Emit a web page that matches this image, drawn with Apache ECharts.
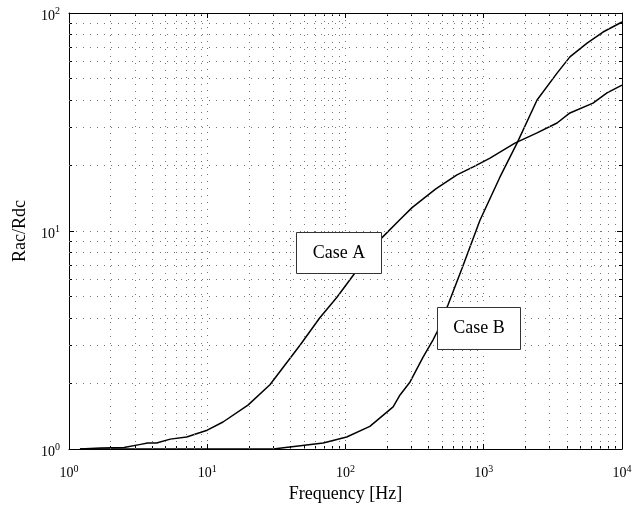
<!DOCTYPE html>
<html>
<head>
<meta charset="utf-8">
<script src="https://cdn.jsdelivr.net/npm/echarts@6/dist/echarts.min.js"></script>
<style>html,body{margin:0;padding:0;background:#fff}#c{width:641px;height:506px}</style>
</head>
<body>
<div id="c"></div>
<script>
// ---- data ----
var caseAFreq = [1.2, 1.7, 2.5, 3.3, 3.7, 4.3, 5.4, 7.1, 8.9, 10, 13, 19.7, 28.4, 47, 65, 87, 117, 150, 183, 248, 303, 450, 640, 840, 1110, 1680, 2430, 3390, 4200, 6170, 7790, 10000];
var caseAVal  = [1.0, 1.01, 1.015, 1.05, 1.065, 1.065, 1.11, 1.135, 1.19, 1.22, 1.33, 1.59, 1.97, 3.0, 3.99, 4.98, 6.42, 7.8, 9.3, 11.3, 12.8, 15.6, 18.1, 19.7, 21.6, 25.3, 28.2, 31.3, 34.8, 38.6, 43, 46.7];
var caseBFreq = [1.2, 10, 30, 69, 102, 150, 221, 248, 293, 364, 429, 459, 551, 700, 939, 1311, 1741, 2430, 3390, 4200, 5590, 7290, 10000];
var caseBVal  = [1.0, 1.0, 1.0, 1.065, 1.135, 1.27, 1.56, 1.77, 2.03, 2.64, 3.16, 3.44, 4.58, 6.8, 11.2, 17.7, 25.3, 39.9, 53, 62.9, 72.8, 81.8, 90.9];
var xRange = [1, 10000];
var yRange = [1, 100];
var xMinorGrid = [2,3,4,5,6,7,8,9,20,30,40,50,60,70,80,90,200,300,400,500,600,700,800,900,2000,3000,4000,5000,6000,7000,8000,9000];
var yMinorGrid = [2,3,4,5,6,7,8,9,20,30,40,50,60,70,80,90];
var labelA = 'Case A';
var labelB = 'Case B';

var FONT = '"Liberation Serif","Times New Roman",serif';
function pair(xs, ys){ return xs.map(function(x,i){ return [x, ys[i]]; }); }
function powFmt(v){ var e = Math.round(Math.log10(v)); return '{b|10}{s|' + e + '}'; }
var rich = {
  b: {fontFamily: FONT, fontSize: 14, color: '#000'},
  s: {fontFamily: FONT, fontSize: 10, color: '#000', verticalAlign: 'bottom', padding: [0,0,9,0]}
};
var gridStyle = {type: [1, 6], color: '#777', width: 1};

function logAxis(range, pos, show, extra){
  var a = {
    type: 'log', logBase: 10, min: range[0], max: range[1], position: pos,
    axisLine: {show: true, onZero: false, lineStyle: {color: '#000', width: 1}},
    axisTick: {show: true, inside: true, length: 5, lineStyle: {color: '#000'}},
    minorTick: {show: true, splitNumber: 9, length: 3, lineStyle: {color: '#000'}},
    axisLabel: {show: show, formatter: powFmt, rich: rich},
    splitLine: {show: show, lineStyle: gridStyle}
  };
  for (var k in extra) {
    if (k === 'axisLabel') { for (var j in extra[k]) a.axisLabel[j] = extra[k][j]; }
    else a[k] = extra[k];
  }
  return a;
}

var chart = echarts.init(document.getElementById('c'), null, {renderer: 'canvas'});
chart.setOption({
  animation: false,
  backgroundColor: '#fff',
  grid: {left: 69, right: 19, top: 13, bottom: 57, containLabel: false, outerBoundsMode: 'none'},
  xAxis: [
    logAxis(xRange, 'bottom', true, {name: 'Frequency [Hz]', nameLocation: 'middle', nameGap: 36,
      nameTextStyle: {fontFamily: FONT, fontSize: 18, color: '#000'},
      axisLabel: {margin: 15}}),
    logAxis(xRange, 'top', false, {})
  ],
  yAxis: [
    logAxis(yRange, 'left', true, {name: 'Rac/Rdc', nameLocation: 'middle', nameGap: 40,
      nameTextStyle: {fontFamily: FONT, fontSize: 18, color: '#000'},
      axisLabel: {padding: [6, 0, 0, 0], margin: 9}}),
    logAxis(yRange, 'right', false, {})
  ],
  series: [
    {type: 'line', data: [], silent: true, z: 1,
     markLine: {silent: true, symbol: 'none', label: {show: false}, animation: false,
       lineStyle: gridStyle,
       data: xMinorGrid.map(function(v){ return {xAxis: v}; }).concat(yMinorGrid.map(function(v){ return {yAxis: v}; }))}},
    {type: 'line', name: labelA, data: pair(caseAFreq, caseAVal), showSymbol: false, z: 3,
     lineStyle: {color: '#000', width: 1.5}},
    {type: 'line', name: labelB, data: pair(caseBFreq, caseBVal), showSymbol: false, z: 3,
     lineStyle: {color: '#000', width: 1.5}}
  ],
  graphic: [
    {type: 'group', left: 296, top: 232, z: 100, children: [
      {type: 'rect', z: 100, shape: {x: 0, y: 0, width: 85, height: 41}, style: {fill: '#fff', stroke: '#333', lineWidth: 1}},
      {type: 'text', z: 101, x: 42.5, y: 20.5, style: {text: labelA, font: '18px ' + FONT, fill: '#000', align: 'center', verticalAlign: 'middle'}}
    ]},
    {type: 'group', left: 437, top: 307, z: 100, children: [
      {type: 'rect', z: 100, shape: {x: 0, y: 0, width: 83, height: 42}, style: {fill: '#fff', stroke: '#333', lineWidth: 1}},
      {type: 'text', z: 101, x: 41.5, y: 21, style: {text: labelB, font: '18px ' + FONT, fill: '#000', align: 'center', verticalAlign: 'middle'}}
    ]}
  ]
});
</script>
</body>
</html>
